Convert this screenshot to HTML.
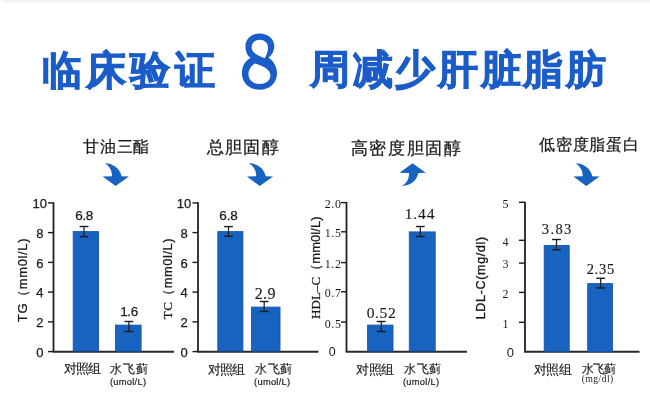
<!DOCTYPE html><html><head><meta charset="utf-8"><style>html,body{margin:0;padding:0;background:#fff;width:650px;height:409px;overflow:hidden}svg{display:block;will-change:transform}</style></head><body>
<svg width="650" height="409" viewBox="0 0 650 409">
<rect x="1.5" y="0.0" width="648.5" height="2.6" fill="#f0f3f7"/>
<path fill-rule="evenodd" fill="#1a5cc8" d="M259.5,33.4 C267.5,33.4 274.3,38.5 274.3,46 C274.3,51 272,55 268.5,57.8 C273.5,61 277,66.5 277,73.5 C277,83 269.5,89.8 259.5,89.8 C249.5,89.8 241.9,83 241.9,73 C241.9,66 245.5,60.5 250.5,58 C247,55.5 245.4,51 245.4,46.5 C245.4,38.8 251.5,33.4 259.5,33.4 Z M259.5,39.7 C264.5,39.7 268,43 268,47.5 C268,51.5 266.5,55.5 264.5,58.2 C258.5,56 251.6,53 251.6,47.3 C251.6,42.8 255,39.7 259.5,39.7 Z M255,63.6 C263,66 270.4,69.5 270.4,75.5 C270.4,80.5 265.5,84 259.5,84 C253.5,84 248.5,80 248.5,74.5 C248.5,69.5 251,66 255,63.6 Z"/>
<text x="128.30" y="84.30" font-size="39.50" text-anchor="middle" font-family="'Liberation Sans',sans-serif" font-weight="900" fill="#1a5cc8" stroke="#1a5cc8" stroke-width="1.00" textLength="172.66" lengthAdjust="spacing">临床验证</text>
<text x="458.00" y="83.30" font-size="39.50" text-anchor="middle" font-family="'Liberation Sans',sans-serif" font-weight="900" fill="#1a5cc8" stroke="#1a5cc8" stroke-width="1.00" textLength="296.01" lengthAdjust="spacing">周减少肝脏脂肪</text>
<text x="116.25" y="152.10" font-size="16.30" text-anchor="middle" font-family="'Liberation Sans',sans-serif" font-weight="normal" fill="#1a1a1a" stroke="#1a1a1a" stroke-width="0.25" textLength="65.86" lengthAdjust="spacing">甘油三酯</text>
<text x="242.60" y="152.80" font-size="17.30" text-anchor="middle" font-family="'Liberation Sans',sans-serif" font-weight="normal" fill="#1a1a1a" stroke="#1a1a1a" stroke-width="0.25" textLength="71.90" lengthAdjust="spacing">总胆固醇</text>
<text x="405.75" y="154.00" font-size="17.30" text-anchor="middle" font-family="'Liberation Sans',sans-serif" font-weight="normal" fill="#1a1a1a" stroke="#1a1a1a" stroke-width="0.25" textLength="109.60" lengthAdjust="spacing">高密度胆固醇</text>
<text x="588.90" y="150.30" font-size="16.30" text-anchor="middle" font-family="'Liberation Sans',sans-serif" font-weight="normal" fill="#1a1a1a" stroke="#1a1a1a" stroke-width="0.25" textLength="99.94" lengthAdjust="spacing">低密度脂蛋白</text>
<text x="84.30" y="220.10" font-size="13.50" text-anchor="middle" font-family="'Liberation Sans',sans-serif" font-weight="normal" fill="#1a1a1a" stroke="#1a1a1a" stroke-width="0.25" textLength="18.18" lengthAdjust="spacing">6.8</text>
<text x="129.25" y="316.40" font-size="13.50" text-anchor="middle" font-family="'Liberation Sans',sans-serif" font-weight="normal" fill="#1a1a1a" stroke="#1a1a1a" stroke-width="0.25" textLength="18.08" lengthAdjust="spacing">1.6</text>
<text x="228.55" y="220.10" font-size="13.50" text-anchor="middle" font-family="'Liberation Sans',sans-serif" font-weight="normal" fill="#1a1a1a" stroke="#1a1a1a" stroke-width="0.25" textLength="18.59" lengthAdjust="spacing">6.8</text>
<text x="265.10" y="299.10" font-size="16.00" text-anchor="middle" font-family="'Liberation Serif',serif" font-weight="normal" fill="#1a1a1a" stroke="#1a1a1a" stroke-width="0.15" textLength="20.72" lengthAdjust="spacing">2.9</text>
<text x="381.20" y="317.80" font-size="15.50" text-anchor="middle" font-family="'Liberation Serif',serif" font-weight="normal" fill="#1a1a1a" stroke="#1a1a1a" stroke-width="0.15" textLength="29.15" lengthAdjust="spacing">0.52</text>
<text x="419.60" y="219.00" font-size="15.50" text-anchor="middle" font-family="'Liberation Serif',serif" font-weight="normal" fill="#1a1a1a" stroke="#1a1a1a" stroke-width="0.15" textLength="29.67" lengthAdjust="spacing">1.44</text>
<text x="556.60" y="233.80" font-size="14.50" text-anchor="middle" font-family="'Liberation Serif',serif" font-weight="normal" fill="#1a1a1a" stroke="#1a1a1a" stroke-width="0.15" textLength="29.55" lengthAdjust="spacing">3.83</text>
<text x="600.40" y="273.60" font-size="14.50" text-anchor="middle" font-family="'Liberation Serif',serif" font-weight="normal" fill="#1a1a1a" stroke="#1a1a1a" stroke-width="0.15" textLength="27.46" lengthAdjust="spacing">2.35</text>
<text x="82.50" y="373.20" font-size="12.80" text-anchor="middle" font-family="'Liberation Sans',sans-serif" font-weight="normal" fill="#1a1a1a" stroke="#1a1a1a" stroke-width="0.15" textLength="37.29" lengthAdjust="spacing">对照组</text>
<text x="128.75" y="372.70" font-size="12.20" text-anchor="middle" font-family="'Liberation Sans',sans-serif" font-weight="normal" fill="#1a1a1a" stroke="#1a1a1a" stroke-width="0.15" textLength="37.78" lengthAdjust="spacing">水飞蓟</text>
<text x="128.00" y="384.80" font-size="9.30" text-anchor="middle" font-family="'Liberation Sans',sans-serif" font-weight="normal" fill="#1a1a1a" stroke="#1a1a1a" stroke-width="0.20" textLength="36.11" lengthAdjust="spacing">(umol/L)</text>
<text x="226.50" y="373.90" font-size="12.80" text-anchor="middle" font-family="'Liberation Sans',sans-serif" font-weight="normal" fill="#1a1a1a" stroke="#1a1a1a" stroke-width="0.15" textLength="37.11" lengthAdjust="spacing">对照组</text>
<text x="273.50" y="373.40" font-size="12.20" text-anchor="middle" font-family="'Liberation Sans',sans-serif" font-weight="normal" fill="#1a1a1a" stroke="#1a1a1a" stroke-width="0.15" textLength="37.14" lengthAdjust="spacing">水飞蓟</text>
<text x="272.10" y="384.70" font-size="9.30" text-anchor="middle" font-family="'Liberation Sans',sans-serif" font-weight="normal" fill="#1a1a1a" stroke="#1a1a1a" stroke-width="0.20" textLength="36.00" lengthAdjust="spacing">(umol/L)</text>
<text x="375.00" y="373.90" font-size="12.80" text-anchor="middle" font-family="'Liberation Sans',sans-serif" font-weight="normal" fill="#1a1a1a" stroke="#1a1a1a" stroke-width="0.15" textLength="38.11" lengthAdjust="spacing">对照组</text>
<text x="422.50" y="373.40" font-size="12.20" text-anchor="middle" font-family="'Liberation Sans',sans-serif" font-weight="normal" fill="#1a1a1a" stroke="#1a1a1a" stroke-width="0.15" textLength="37.19" lengthAdjust="spacing">水飞蓟</text>
<text x="421.00" y="384.70" font-size="9.30" text-anchor="middle" font-family="'Liberation Sans',sans-serif" font-weight="normal" fill="#1a1a1a" stroke="#1a1a1a" stroke-width="0.20" textLength="36.22" lengthAdjust="spacing">(umol/L)</text>
<text x="552.90" y="374.10" font-size="12.80" text-anchor="middle" font-family="'Liberation Sans',sans-serif" font-weight="normal" fill="#1a1a1a" stroke="#1a1a1a" stroke-width="0.15" textLength="38.00" lengthAdjust="spacing">对照组</text>
<text x="599.10" y="372.60" font-size="12.30" text-anchor="middle" font-family="'Liberation Sans',sans-serif" font-weight="normal" fill="#1a1a1a" stroke="#1a1a1a" stroke-width="0.15" textLength="34.05" lengthAdjust="spacing">水飞蓟</text>
<text x="597.50" y="382.20" font-size="9.50" text-anchor="middle" font-family="'Liberation Serif',serif" font-weight="normal" fill="#1a1a1a" textLength="31.38" lengthAdjust="spacing">(mg/dl)</text>
<g transform="translate(27.00,280.30) rotate(-90)"><text x="0.00" y="0.00" font-size="13.00" text-anchor="middle" font-family="'Liberation Sans',sans-serif" font-weight="normal" fill="#1a1a1a" stroke="#1a1a1a" stroke-width="0.25" textLength="83.66" lengthAdjust="spacing">TG（mm0l/L)</text></g>
<g transform="translate(172.00,278.85) rotate(-90)"><text x="0.00" y="0.00" font-size="13.00" text-anchor="middle" font-family="'Liberation Sans',sans-serif" font-weight="normal" fill="#1a1a1a" stroke="#1a1a1a" stroke-width="0.25" textLength="80.70" lengthAdjust="spacing"><tspan font-family="'Liberation Serif',serif">TC</tspan>（mm0l/L)</text></g>
<g transform="translate(319.80,267.70) rotate(-90)"><text x="0.00" y="0.00" font-size="13.00" text-anchor="middle" font-family="'Liberation Sans',sans-serif" font-weight="normal" fill="#1a1a1a" stroke="#1a1a1a" stroke-width="0.25" textLength="102.55" lengthAdjust="spacing"><tspan font-family="'Liberation Serif',serif">HDL–C</tspan>（mm0l/L)</text></g>
<g transform="translate(484.70,278.05) rotate(-90)"><text x="0.00" y="0.00" font-size="12.50" text-anchor="middle" font-family="'Liberation Sans',sans-serif" font-weight="normal" fill="#1a1a1a" stroke="#1a1a1a" stroke-width="0.35" textLength="82.61" lengthAdjust="spacing">LDL-C(mg/dl)</text></g>
<line x1="53.5" y1="202.2" x2="53.5" y2="352.0" stroke="#222" stroke-width="1.80"/>
<line x1="52.7" y1="351.8" x2="174.0" y2="351.8" stroke="#2a2a2a" stroke-width="2.00"/>
<line x1="48.0" y1="351.6" x2="53.5" y2="351.6" stroke="#1a1a1a" stroke-width="1.40"/>
<text x="39.75" y="356.80" font-size="13.00" text-anchor="middle" font-family="'Liberation Sans',sans-serif" font-weight="normal" fill="#1a1a1a" stroke="#1a1a1a" stroke-width="0.25">0</text>
<line x1="48.0" y1="321.9" x2="53.5" y2="321.9" stroke="#1a1a1a" stroke-width="1.40"/>
<text x="39.75" y="327.06" font-size="13.00" text-anchor="middle" font-family="'Liberation Sans',sans-serif" font-weight="normal" fill="#1a1a1a" stroke="#1a1a1a" stroke-width="0.25">2</text>
<line x1="48.0" y1="292.1" x2="53.5" y2="292.1" stroke="#1a1a1a" stroke-width="1.40"/>
<text x="39.75" y="297.32" font-size="13.00" text-anchor="middle" font-family="'Liberation Sans',sans-serif" font-weight="normal" fill="#1a1a1a" stroke="#1a1a1a" stroke-width="0.25">4</text>
<line x1="48.0" y1="262.4" x2="53.5" y2="262.4" stroke="#1a1a1a" stroke-width="1.40"/>
<text x="39.75" y="267.58" font-size="13.00" text-anchor="middle" font-family="'Liberation Sans',sans-serif" font-weight="normal" fill="#1a1a1a" stroke="#1a1a1a" stroke-width="0.25">6</text>
<line x1="48.0" y1="232.6" x2="53.5" y2="232.6" stroke="#1a1a1a" stroke-width="1.40"/>
<text x="39.75" y="237.84" font-size="13.00" text-anchor="middle" font-family="'Liberation Sans',sans-serif" font-weight="normal" fill="#1a1a1a" stroke="#1a1a1a" stroke-width="0.25">8</text>
<line x1="48.0" y1="202.9" x2="53.5" y2="202.9" stroke="#1a1a1a" stroke-width="1.40"/>
<text x="39.75" y="208.10" font-size="13.00" text-anchor="middle" font-family="'Liberation Sans',sans-serif" font-weight="normal" fill="#1a1a1a" stroke="#1a1a1a" stroke-width="0.25">10</text>
<rect x="73.2" y="231.6" width="25.3" height="119.4" fill="#1862c0" stroke="#1756b0" stroke-width="0.9"/>
<line x1="84.0" y1="226.5" x2="84.0" y2="236.6" stroke="#1a1a1a" stroke-width="1.20"/><line x1="79.6" y1="226.5" x2="88.4" y2="226.5" stroke="#1a1a1a" stroke-width="1.40"/><line x1="79.6" y1="236.6" x2="88.4" y2="236.6" stroke="#1a1a1a" stroke-width="1.40"/>
<rect x="115.5" y="325.1" width="25.6" height="26.0" fill="#1862c0" stroke="#1756b0" stroke-width="0.9"/>
<line x1="128.9" y1="321.5" x2="128.9" y2="331.5" stroke="#1a1a1a" stroke-width="1.20"/><line x1="124.5" y1="321.5" x2="133.3" y2="321.5" stroke="#1a1a1a" stroke-width="1.40"/><line x1="124.5" y1="331.5" x2="133.3" y2="331.5" stroke="#1a1a1a" stroke-width="1.40"/>
<path d="M104.7,163.3 C112.5,163.3 119.8,168.0 121.6,176.3 L128.9,176.6 L115.6,185.9 L102.7,176.6 L112.0,176.3 C112.2,171.0 109.5,166.0 104.7,163.3 Z" fill="#1862c0"/>
<line x1="198.0" y1="202.2" x2="198.0" y2="352.0" stroke="#222" stroke-width="1.80"/>
<line x1="197.2" y1="351.8" x2="318.5" y2="351.8" stroke="#2a2a2a" stroke-width="2.00"/>
<line x1="192.5" y1="351.6" x2="198.0" y2="351.6" stroke="#1a1a1a" stroke-width="1.40"/>
<text x="184.10" y="356.80" font-size="13.00" text-anchor="middle" font-family="'Liberation Sans',sans-serif" font-weight="normal" fill="#1a1a1a" stroke="#1a1a1a" stroke-width="0.25">0</text>
<line x1="192.5" y1="321.9" x2="198.0" y2="321.9" stroke="#1a1a1a" stroke-width="1.40"/>
<text x="184.10" y="327.06" font-size="13.00" text-anchor="middle" font-family="'Liberation Sans',sans-serif" font-weight="normal" fill="#1a1a1a" stroke="#1a1a1a" stroke-width="0.25">2</text>
<line x1="192.5" y1="292.1" x2="198.0" y2="292.1" stroke="#1a1a1a" stroke-width="1.40"/>
<text x="184.10" y="297.32" font-size="13.00" text-anchor="middle" font-family="'Liberation Sans',sans-serif" font-weight="normal" fill="#1a1a1a" stroke="#1a1a1a" stroke-width="0.25">4</text>
<line x1="192.5" y1="262.4" x2="198.0" y2="262.4" stroke="#1a1a1a" stroke-width="1.40"/>
<text x="184.10" y="267.58" font-size="13.00" text-anchor="middle" font-family="'Liberation Sans',sans-serif" font-weight="normal" fill="#1a1a1a" stroke="#1a1a1a" stroke-width="0.25">6</text>
<line x1="192.5" y1="232.6" x2="198.0" y2="232.6" stroke="#1a1a1a" stroke-width="1.40"/>
<text x="184.10" y="237.84" font-size="13.00" text-anchor="middle" font-family="'Liberation Sans',sans-serif" font-weight="normal" fill="#1a1a1a" stroke="#1a1a1a" stroke-width="0.25">8</text>
<line x1="192.5" y1="202.9" x2="198.0" y2="202.9" stroke="#1a1a1a" stroke-width="1.40"/>
<text x="184.10" y="208.10" font-size="13.00" text-anchor="middle" font-family="'Liberation Sans',sans-serif" font-weight="normal" fill="#1a1a1a" stroke="#1a1a1a" stroke-width="0.25">10</text>
<rect x="217.8" y="231.6" width="25.1" height="119.4" fill="#1862c0" stroke="#1756b0" stroke-width="0.9"/>
<line x1="228.5" y1="226.6" x2="228.5" y2="236.2" stroke="#1a1a1a" stroke-width="1.20"/><line x1="224.1" y1="226.6" x2="232.9" y2="226.6" stroke="#1a1a1a" stroke-width="1.40"/><line x1="224.1" y1="236.2" x2="232.9" y2="236.2" stroke="#1a1a1a" stroke-width="1.40"/>
<rect x="251.4" y="307.1" width="28.6" height="44.0" fill="#1862c0" stroke="#1756b0" stroke-width="0.9"/>
<line x1="264.2" y1="301.5" x2="264.2" y2="311.5" stroke="#1a1a1a" stroke-width="1.20"/><line x1="259.8" y1="301.5" x2="268.6" y2="301.5" stroke="#1a1a1a" stroke-width="1.40"/><line x1="259.8" y1="311.5" x2="268.6" y2="311.5" stroke="#1a1a1a" stroke-width="1.40"/>
<path d="M248.9,163.3 C256.7,163.3 264.0,168.0 265.8,176.3 L273.1,176.6 L259.8,185.9 L246.9,176.6 L256.2,176.3 C256.4,171.0 253.7,166.0 248.9,163.3 Z" fill="#1862c0"/>
<line x1="346.5" y1="202.0" x2="346.5" y2="352.0" stroke="#222" stroke-width="1.80"/>
<line x1="345.7" y1="351.8" x2="467.0" y2="351.8" stroke="#2a2a2a" stroke-width="2.00"/>
<line x1="341.0" y1="202.6" x2="346.5" y2="202.6" stroke="#1a1a1a" stroke-width="1.40"/>
<text x="341.50" y="208.20" font-size="12.00" text-anchor="end" font-family="'Liberation Serif',serif" font-weight="normal" fill="#1a1a1a" letter-spacing="0.6">2.0</text>
<line x1="341.0" y1="231.8" x2="346.5" y2="231.8" stroke="#1a1a1a" stroke-width="1.40"/>
<text x="341.50" y="237.40" font-size="12.00" text-anchor="end" font-family="'Liberation Serif',serif" font-weight="normal" fill="#1a1a1a" letter-spacing="0.6">1.5</text>
<line x1="341.0" y1="262.6" x2="346.5" y2="262.6" stroke="#1a1a1a" stroke-width="1.40"/>
<text x="341.50" y="268.20" font-size="12.00" text-anchor="end" font-family="'Liberation Serif',serif" font-weight="normal" fill="#1a1a1a" letter-spacing="0.6">1.2</text>
<line x1="341.0" y1="291.8" x2="346.5" y2="291.8" stroke="#1a1a1a" stroke-width="1.40"/>
<text x="341.50" y="297.40" font-size="12.00" text-anchor="end" font-family="'Liberation Serif',serif" font-weight="normal" fill="#1a1a1a" letter-spacing="0.6">0.7</text>
<line x1="341.0" y1="322.0" x2="346.5" y2="322.0" stroke="#1a1a1a" stroke-width="1.40"/>
<text x="341.50" y="327.60" font-size="12.00" text-anchor="end" font-family="'Liberation Serif',serif" font-weight="normal" fill="#1a1a1a" letter-spacing="0.6">0.5</text>
<text x="332.30" y="356.20" font-size="12.50" text-anchor="middle" font-family="'Liberation Sans',sans-serif" font-weight="normal" fill="#1a1a1a" >0</text>
<rect x="367.6" y="325.1" width="25.4" height="26.0" fill="#1862c0" stroke="#1756b0" stroke-width="0.9"/>
<line x1="381.2" y1="321.5" x2="381.2" y2="331.5" stroke="#1a1a1a" stroke-width="1.20"/><line x1="376.8" y1="321.5" x2="385.6" y2="321.5" stroke="#1a1a1a" stroke-width="1.40"/><line x1="376.8" y1="331.5" x2="385.6" y2="331.5" stroke="#1a1a1a" stroke-width="1.40"/>
<rect x="409.3" y="231.9" width="25.9" height="119.1" fill="#1862c0" stroke="#1756b0" stroke-width="0.9"/>
<line x1="420.3" y1="226.5" x2="420.3" y2="236.5" stroke="#1a1a1a" stroke-width="1.20"/><line x1="415.9" y1="226.5" x2="424.7" y2="226.5" stroke="#1a1a1a" stroke-width="1.40"/><line x1="415.9" y1="236.5" x2="424.7" y2="236.5" stroke="#1a1a1a" stroke-width="1.40"/>
<path d="M412.5,163.3 L425.8,172.8 L418.3,173.0 C416.8,180.5 411.5,185.5 401.8,185.9 C407,183 409.2,178.5 409.0,173.0 L399.6,172.8 Z" fill="#1862c0"/>
<line x1="525.0" y1="201.7" x2="525.0" y2="352.0" stroke="#222" stroke-width="1.80"/>
<line x1="524.2" y1="351.8" x2="639.6" y2="351.8" stroke="#2a2a2a" stroke-width="2.00"/>
<line x1="519.0" y1="202.3" x2="525.0" y2="202.3" stroke="#1a1a1a" stroke-width="1.40"/>
<text x="505.60" y="207.50" font-size="12.00" text-anchor="middle" font-family="'Liberation Serif',serif" font-weight="normal" fill="#1a1a1a" >5</text>
<line x1="519.0" y1="240.3" x2="525.0" y2="240.3" stroke="#1a1a1a" stroke-width="1.40"/>
<text x="505.60" y="245.50" font-size="12.00" text-anchor="middle" font-family="'Liberation Serif',serif" font-weight="normal" fill="#1a1a1a" >4</text>
<line x1="519.0" y1="263.1" x2="525.0" y2="263.1" stroke="#1a1a1a" stroke-width="1.40"/>
<text x="505.60" y="268.30" font-size="12.00" text-anchor="middle" font-family="'Liberation Serif',serif" font-weight="normal" fill="#1a1a1a" >3</text>
<line x1="519.0" y1="292.4" x2="525.0" y2="292.4" stroke="#1a1a1a" stroke-width="1.40"/>
<text x="505.60" y="297.60" font-size="12.00" text-anchor="middle" font-family="'Liberation Serif',serif" font-weight="normal" fill="#1a1a1a" >2</text>
<line x1="519.0" y1="322.3" x2="525.0" y2="322.3" stroke="#1a1a1a" stroke-width="1.40"/>
<text x="505.60" y="327.50" font-size="12.00" text-anchor="middle" font-family="'Liberation Serif',serif" font-weight="normal" fill="#1a1a1a" >1</text>
<text x="510.40" y="356.60" font-size="13.00" text-anchor="middle" font-family="'Liberation Sans',sans-serif" font-weight="normal" fill="#1a1a1a" >0</text>
<rect x="544.2" y="245.4" width="25.0" height="105.9" fill="#1862c0" stroke="#1756b0" stroke-width="0.9"/>
<line x1="556.5" y1="239.5" x2="556.5" y2="249.7" stroke="#1a1a1a" stroke-width="1.20"/><line x1="552.1" y1="239.5" x2="560.9" y2="239.5" stroke="#1a1a1a" stroke-width="1.40"/><line x1="552.1" y1="249.7" x2="560.9" y2="249.7" stroke="#1a1a1a" stroke-width="1.40"/>
<rect x="587.7" y="283.6" width="24.8" height="67.8" fill="#1862c0" stroke="#1756b0" stroke-width="0.9"/>
<line x1="600.7" y1="278.3" x2="600.7" y2="288.0" stroke="#1a1a1a" stroke-width="1.20"/><line x1="596.3" y1="278.3" x2="605.1" y2="278.3" stroke="#1a1a1a" stroke-width="1.40"/><line x1="596.3" y1="288.0" x2="605.1" y2="288.0" stroke="#1a1a1a" stroke-width="1.40"/>
<path d="M575.4,163.3 C583.2,163.3 590.5,168.0 592.3,176.3 L599.6,176.6 L586.3,185.9 L573.4,176.6 L582.7,176.3 C582.9,171.0 580.2,166.0 575.4,163.3 Z" fill="#1862c0"/>
</svg></body></html>
